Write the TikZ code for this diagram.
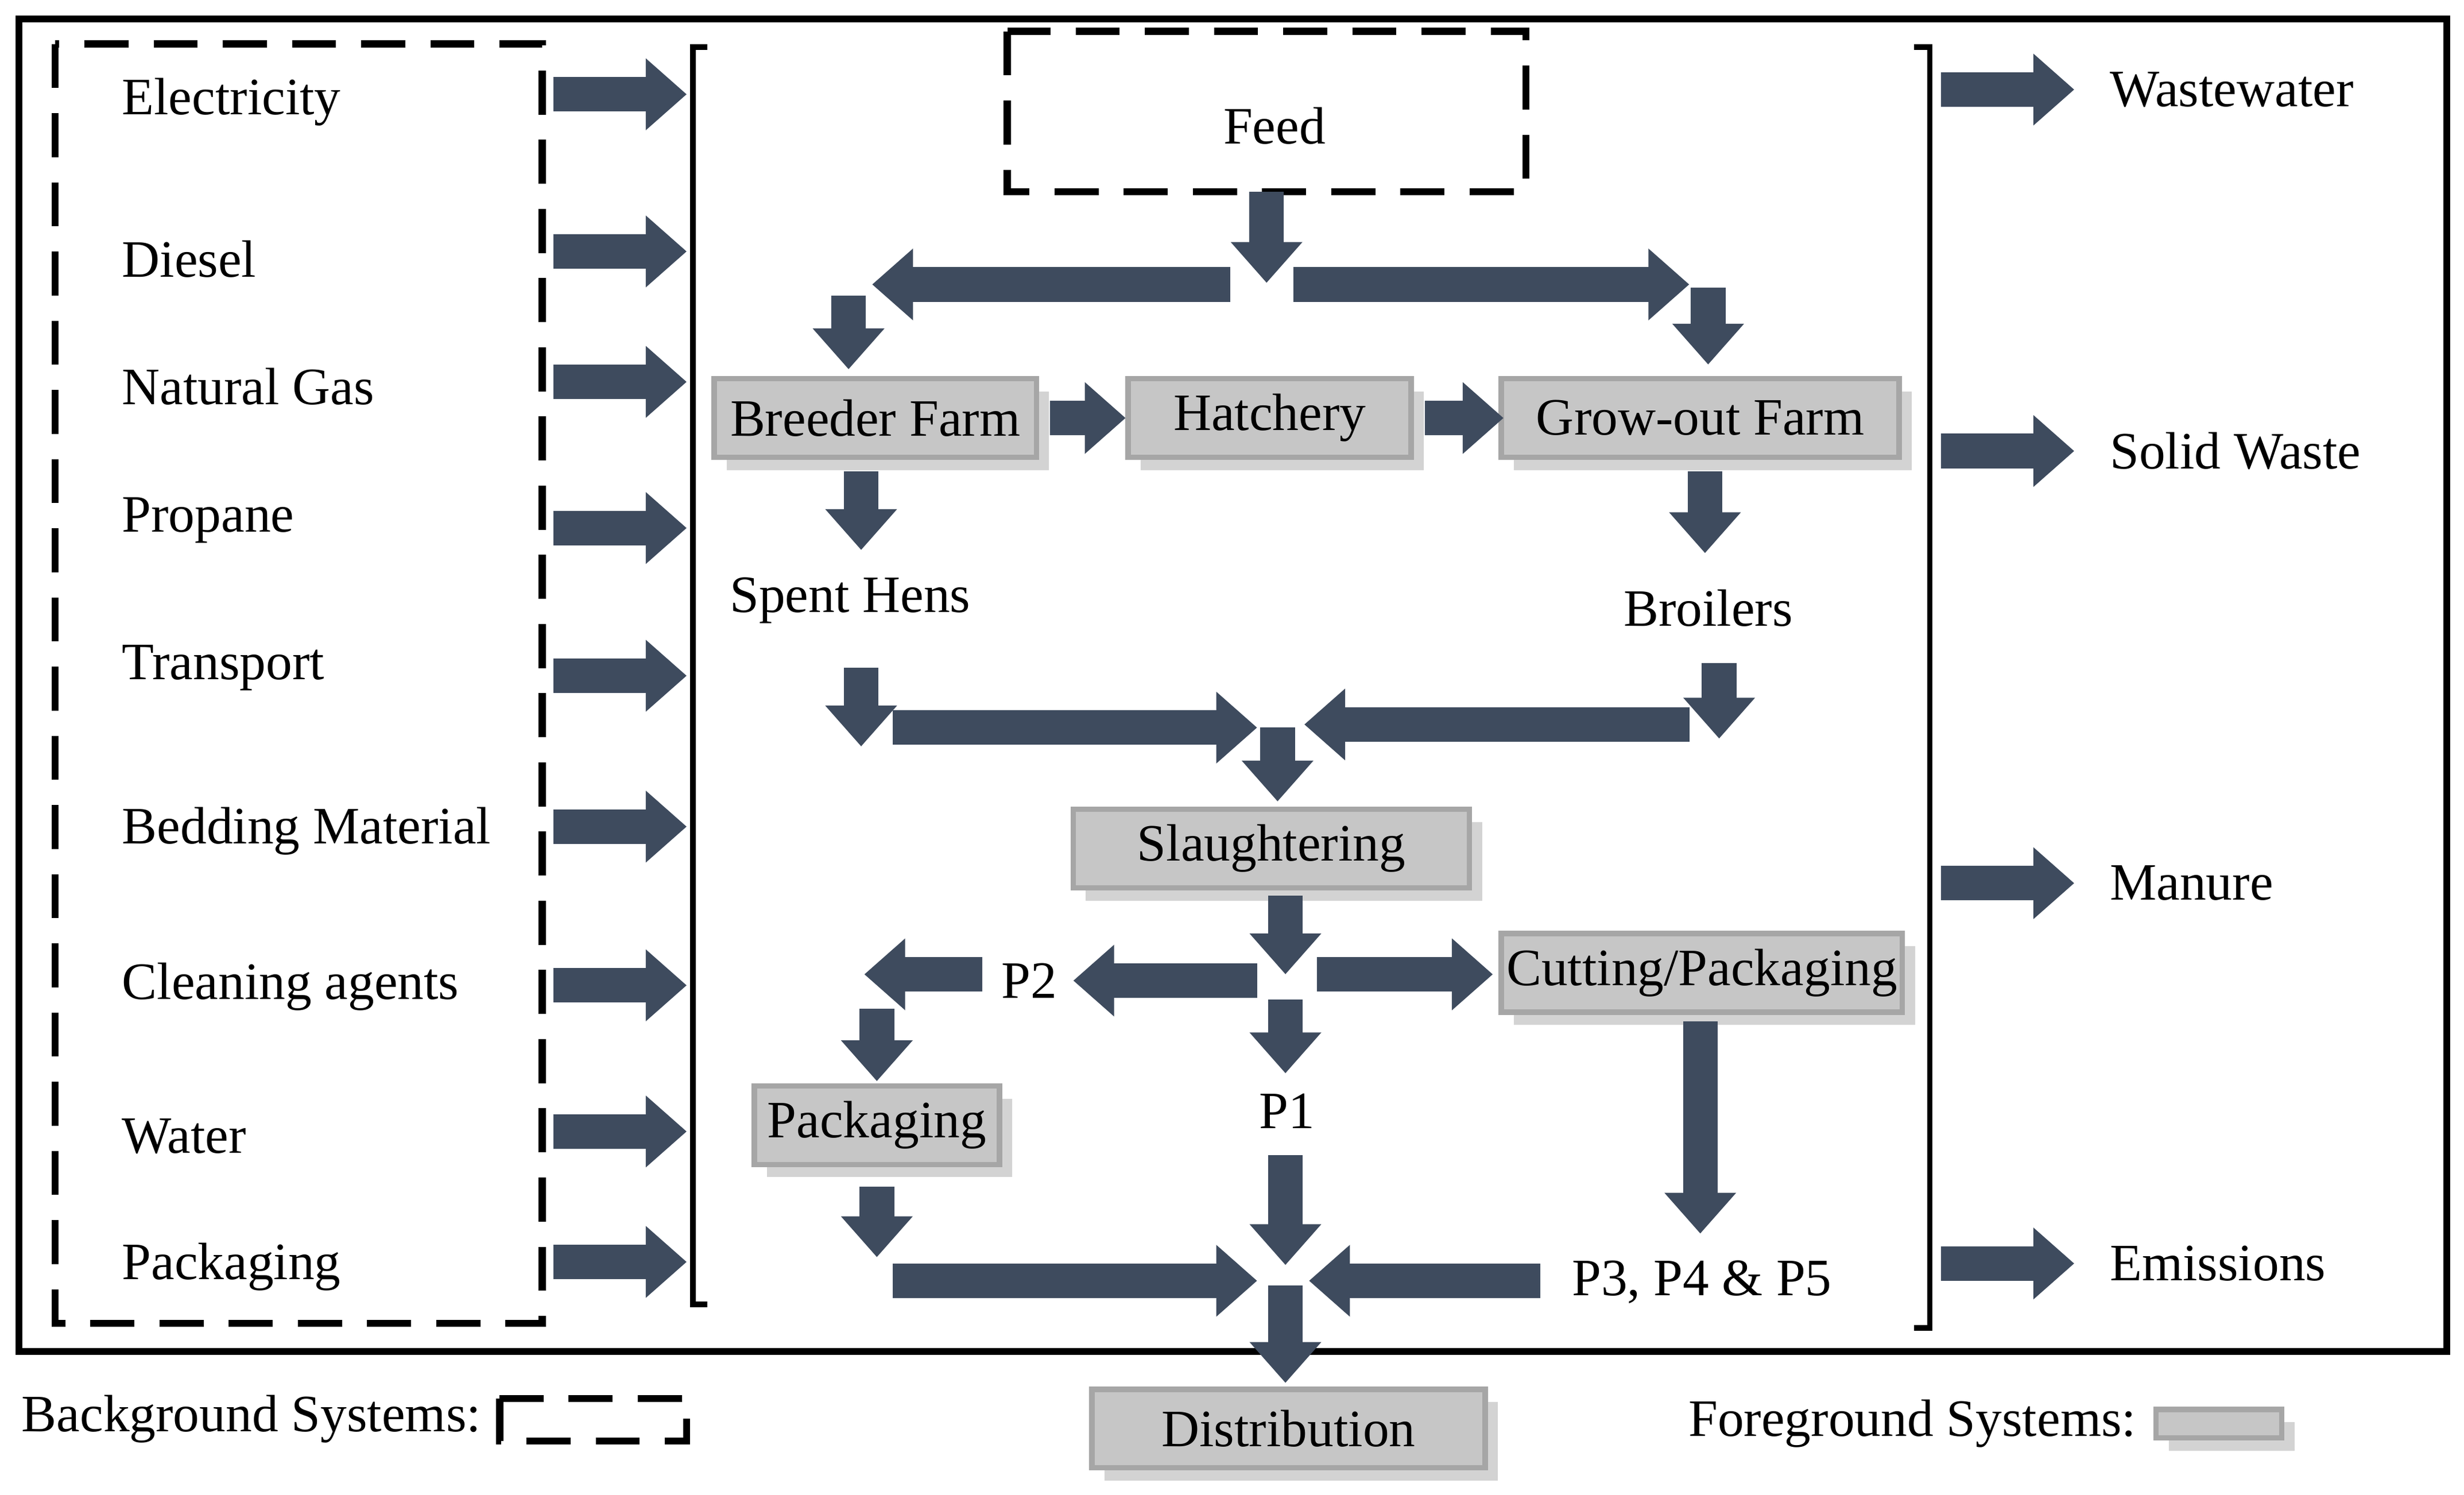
\documentclass[tikz,border=0pt]{standalone}
\usepackage{fontspec}
\setmainfont{Liberation Serif}
\usetikzlibrary{arrows.meta,shadows}

\tikzset{
  flow/.style={line width=0.22cm, draw=arrowc, -{Triangle[length=0.26cm,width=0.44cm]}},
  bar/.style={line width=0.22cm, draw=arrowc},
  box/.style={draw=gray!70, fill=gray!45, line width=1pt, drop shadow={opacity=0.35},
    inner sep=0pt, font=\fontsize{9.5}{10}\selectfont},
  txt/.style={font=\fontsize{9.5}{10}\selectfont, inner sep=0pt},
  bgbox/.style={draw, line width=1.3pt, dash pattern=on 0.28cm off 0.16cm},
}
\definecolor{arrowc}{HTML}{3E4B5E}

\begin{document}
\begin{tikzpicture}[x=0.01cm, y=-0.01cm]
  \useasboundingbox (0,0) rectangle (1568,951);
  \draw[line width=1.3pt] (12,12) rectangle (1557,860);
  \draw[bgbox] (35,28) rectangle (345,842);
  % background inputs
  \foreach \t/\y/\ya in {Electricity/65/60, Diesel/165/160, Natural Gas/246/243,
      Propane/331/336, Transport/425/430, Bedding Material/529/526,
      Cleaning agents/628/627, Water/723/720, Packaging/806/803} {
    \node[txt, anchor=west] at (77,\y) {\t};
    \draw[flow] (352,\ya) -- (437,\ya);
  }
  \draw[line width=1pt] (450,30) -- (441,30) -- (441,830) -- (450,830);
  \draw[line width=1pt] (1218,30) -- (1228,30) -- (1228,845) -- (1218,845);
  % outputs
  \foreach \t/\y in {Wastewater/57, Solid Waste/287, Manure/562, Emissions/804} {
    \draw[flow] (1235,\y) -- (1320,\y);
    \node[txt, anchor=west] at (1342,\y) {\t};
  }
  % foreground
  \draw[bgbox] (641,20) rectangle (971,122);
  \node[txt] (feed) at (811,80) {Feed};
  \node[box, minimum width=2.05cm, minimum height=0.5cm] (breeder) at (557,266) {Breeder Farm};
  \node[box, minimum width=1.8cm, minimum height=0.5cm] (hatch) at (808,266) {Hatchery};
  \node[box, minimum width=2.53cm, minimum height=0.5cm] (grow) at (1082,266) {Grow-out Farm};
  \node[txt] (hens) at (541,382) {Spent Hens};
  \node[txt] (broil) at (1087,387) {Broilers};
  \node[box, minimum width=2.52cm, minimum height=0.5cm] (slaugh) at (809,540) {Slaughtering};
  \node[txt] (p2) at (655,624) {P2};
  \node[txt] (p1) at (819,707) {P1};
  \node[box, minimum width=2.55cm, minimum height=0.5cm] (cut) at (1083,619) {Cutting/Packaging};
  \node[box, minimum width=1.56cm, minimum height=0.5cm] (pack) at (558,716) {Packaging};
  \node[txt] (p345) at (1083,816) {P3, P4 \& P5};
  \node[box, minimum width=2.5cm, minimum height=0.5cm] (dist) at (820,909) {Distribution};
  % feed split
  \draw[flow] (806,122) -- (806,180);
  \draw[flow] (783,181) -- (555,181);
  \draw[flow] (540,188) -- (540,235);
  \draw[flow] (823,181) -- (1075,181);
  \draw[flow] (1087,183) -- (1087,232);
  \draw[flow] (breeder.east) ++(7,0) -- ++(48,0);
  \draw[flow] (hatch.east) ++(7,0) -- ++(50,0);
  \draw[flow] (548,300) -- (548,350);
  \draw[flow] (1085,300) -- (1085,352);
  % to slaughtering
  \draw[flow] (548,425) -- (548,475);
  \draw[flow] (568,463) -- (800,463);
  \draw[flow] (1094,422) -- (1094,470);
  \draw[flow] (1075,461) -- (830,461);
  \draw[flow] (813,463) -- (813,510);
  % products
  \draw[flow] (818,570) -- (818,620);
  \draw[flow] (800,624) -- (683,624);
  \draw[flow] (838,620) -- (950,620);
  \draw[flow] (818,636) -- (818,683);
  \draw[flow] (625,620) -- (550,620);
  \draw[flow] (558,642) -- (558,688);
  \draw[flow] (1082,650) -- (1082,785);
  \draw[flow] (558,755) -- (558,800);
  \draw[flow] (568,815) -- (800,815);
  \draw[flow] (818,735) -- (818,805);
  \draw[flow] (980,815) -- (833,815);
  \draw[flow] (818,818) -- (818,880);
  % legend
  \node[txt] (bglab) at (160,903) {Background Systems:};
  \draw[bgbox] (318,890) rectangle (437,917);
  \node[txt] (fglab) at (1217,906) {Foreground Systems:};
  \node[box, minimum width=0.8cm, minimum height=0.18cm] (fgkey) at (1412,906) {};
\end{tikzpicture}
\end{document}
